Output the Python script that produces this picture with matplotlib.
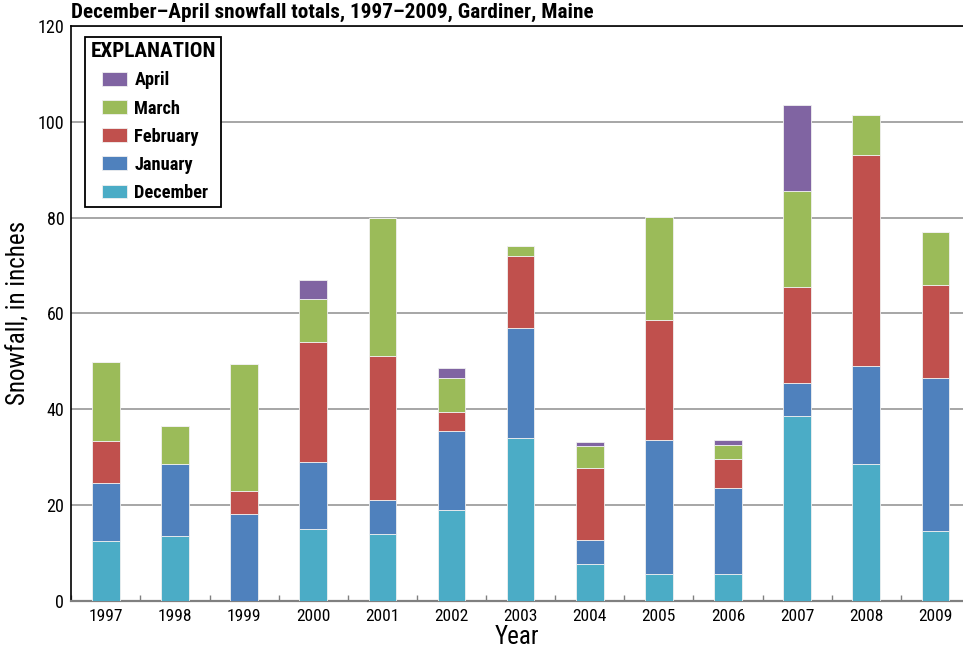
import matplotlib
matplotlib.use("Agg")
import matplotlib.pyplot as plt
import numpy as np
from matplotlib import font_manager
from matplotlib.patches import Rectangle
from matplotlib.legend_handler import HandlerPatch

years = ["1997", "1998", "1999", "2000", "2001", "2002", "2003",
         "2004", "2005", "2006", "2007", "2008", "2009"]
december = [12.5, 13.5, 0.0, 15.0, 14.0, 19.0, 34.0, 7.7, 5.6, 5.6, 38.5, 28.5, 14.5]
january = [12.0, 15.0, 18.0, 14.0, 7.0, 16.5, 23.0, 5.0, 28.0, 18.0, 7.0, 20.5, 32.0]
february = [8.8, 0.0, 5.0, 25.0, 30.0, 4.0, 15.0, 15.0, 25.0, 6.0, 20.0, 44.0, 19.5]
march = [16.5, 8.0, 26.5, 9.0, 29.0, 7.0, 2.0, 4.5, 21.5, 3.0, 20.0, 8.5, 11.0]
april = [0.0, 0.0, 0.0, 4.0, 0.0, 2.0, 0.0, 1.0, 0.0, 1.0, 18.0, 0.0, 0.0]

series = [("December", december, "#4BACC6"),
          ("January", january, "#4F81BD"),
          ("February", february, "#C0504D"),
          ("March", march, "#9BBB59"),
          ("April", april, "#8064A2")]

# pick a narrow font if one is installed
entries = font_manager.fontManager.ttflist
cand = None
for key in ["Liberation Sans Narrow", "Roboto Condensed", "Open Sans Condensed",
            "DejaVu Sans Condensed"]:
    if any(e.name == key for e in entries):
        cand = (key, "normal")
        break
if cand is None:
    for e in entries:
        if e.stretch in ("condensed", "semi-condensed") or "Condensed" in e.fname or "Narrow" in e.fname:
            cand = (e.name, e.stretch if isinstance(e.stretch, str) else "condensed")
            break
narrow = cand is not None
if narrow:
    plt.rcParams["font.family"] = [cand[0], "DejaVu Sans"]
    plt.rcParams["font.stretch"] = cand[1]
    scale = 1.0
else:
    plt.rcParams["font.family"] = ["Roboto", "DejaVu Sans"]
    scale = 0.9

fig = plt.figure(figsize=(9.63, 6.53), dpi=100)
ax = fig.add_axes([0.074, 0.0801, 0.926, 0.8801])

x = np.arange(len(years))
bottom = np.zeros(len(years))
handles = {}
for name, vals, color in series:
    v = np.array(vals)
    b = ax.bar(x, v, width=0.4, bottom=bottom, color=color,
               edgecolor="#f0f0f0", linewidth=0.6, zorder=3, label=name)
    handles[name] = b.patches[0]
    bottom += v

ax.set_xlim(-0.5, 12.4)
ax.set_ylim(0, 120)
ax.set_yticks(np.arange(0, 121, 20))
ax.set_xticks(x)
ax.set_xticklabels(years)
ax.set_xticks(np.arange(-0.5, 12.5, 1), minor=True)
ax.tick_params(axis="x", which="major", length=0, labelsize=12.5 * scale, pad=6)
ax.tick_params(axis="x", which="minor", direction="in", length=4, color="#808080", width=1)
ax.tick_params(axis="y", length=0, labelsize=13 * scale, pad=5)

ax.grid(axis="y", color="#a6a6a6", linewidth=1.4, zorder=0)
ax.spines["right"].set_visible(False)
ax.spines["top"].set_color("black")
ax.spines["top"].set_linewidth(1.2)
ax.spines["left"].set_color("black")
ax.spines["left"].set_linewidth(1.2)
ax.spines["bottom"].set_color("#808080")
ax.spines["bottom"].set_linewidth(1.6)

ax.set_ylabel("Snowfall, in inches", fontsize=18 * scale, labelpad=5)
ax.set_xlabel("Year", fontsize=18 * scale, labelpad=1)

fig.text(0.074, 0.981, "December\u2013April snowfall totals, 1997\u20132009, Gardiner, Maine",
         fontsize=15.3 * scale, fontweight="bold", ha="left", va="center")

OFF = 8.0  # px indent of legend swatches


def swatch(legend, orig_handle, xdescent, ydescent, width, height, fontsize):
    return Rectangle((-xdescent + OFF, -ydescent), width - OFF, height)


order = ["April", "March", "February", "January", "December"]
hmap = {handles[n]: HandlerPatch(patch_func=swatch) for n in order}
leg = ax.legend([handles[n] for n in order], order, loc="upper left",
                bbox_to_anchor=(0.0154, 0.981), borderaxespad=0,
                title="EXPLANATION", fancybox=False, edgecolor="black",
                framealpha=1, prop={"weight": "bold", "size": 13.2 * scale},
                title_fontproperties={"weight": "bold", "size": 15.2 * scale},
                handlelength=2.0, handleheight=0.78, labelspacing=0.55,
                handletextpad=0.4, borderpad=0.3, handler_map=hmap)
leg._legend_box.align = "left"
leg.get_frame().set_linewidth(1.3)
leg.set_zorder(5)

fig.savefig("out.png", dpi=100)
